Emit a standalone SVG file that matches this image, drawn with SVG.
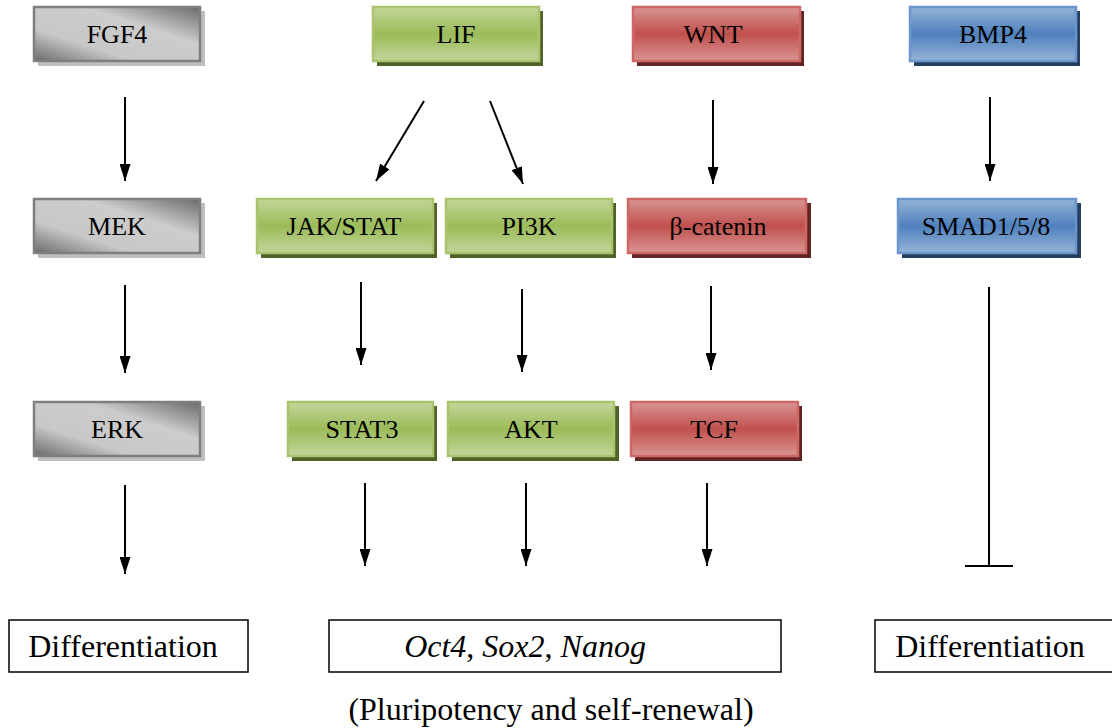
<svg xmlns="http://www.w3.org/2000/svg" width="1112" height="728" viewBox="0 0 1112 728">
<defs>
<linearGradient id="gGray" x1="0" y1="1" x2="1" y2="0">
<stop offset="0" stop-color="#6a6a6a"/>
<stop offset="0.3" stop-color="#c8c8c8"/>
<stop offset="0.65" stop-color="#cccccc"/>
<stop offset="1" stop-color="#6a6a6a"/>
</linearGradient>
<linearGradient id="gGreen" x1="0" y1="0" x2="0" y2="1">
<stop offset="0" stop-color="#c3d69b"/>
<stop offset="0.5" stop-color="#9bbb59"/>
<stop offset="1" stop-color="#c3d69b"/>
</linearGradient>
<linearGradient id="gRed" x1="0" y1="0" x2="0" y2="1">
<stop offset="0" stop-color="#d99594"/>
<stop offset="0.5" stop-color="#c0504d"/>
<stop offset="1" stop-color="#d99594"/>
</linearGradient>
<linearGradient id="gBlue" x1="0" y1="0" x2="0" y2="1">
<stop offset="0" stop-color="#95b3d7"/>
<stop offset="0.5" stop-color="#4f81bd"/>
<stop offset="1" stop-color="#95b3d7"/>
</linearGradient>
<marker id="ah" viewBox="0 0 17 11" refX="17" refY="5.5" markerWidth="17" markerHeight="11" markerUnits="userSpaceOnUse" orient="auto">
<path d="M0,0 L17,5.5 L0,11 z" fill="#000"/>
</marker>
</defs>
<style>
.t{font-family:"Liberation Serif","Times New Roman",serif;fill:#000;text-anchor:middle}
.lbl{font-size:26px}
.big{font-size:32px}
.cap{font-size:32px}
.gray .b{fill:url(#gGray);stroke:#7f7f7f;stroke-width:2.5}
.gray .s{fill:#bfbfbf}
.green .b{fill:url(#gGreen);stroke:#a9c46c;stroke-width:2.5}
.green .s{fill:#4f6228}
.red .b{fill:url(#gRed);stroke:#cd6864;stroke-width:2.5}
.red .s{fill:#632523}
.blue .b{fill:url(#gBlue);stroke:#6a96cb;stroke-width:2.5}
.blue .s{fill:#243f60}
.out{fill:#fff;stroke:#000;stroke-width:1.5}
.ar{stroke:#000;stroke-width:2;fill:none;marker-end:url(#ah)}
.inh{stroke:#000;stroke-width:2;fill:none}
</style>

<g id="FGF4" class="gray"><rect class="s" x="38" y="11" width="167" height="55"/><rect class="b" x="34" y="7" width="166" height="54"/><text class="t lbl" x="117" y="43">FGF4</text></g>
<g id="LIF" class="green"><rect class="s" x="377" y="11" width="166" height="55"/><rect class="b" x="373" y="7" width="166" height="54"/><text class="t lbl" x="456" y="43">LIF</text></g>
<g id="WNT" class="red"><rect class="s" x="637" y="11" width="167" height="55"/><rect class="b" x="633" y="7" width="167" height="54"/><text class="t lbl" x="713" y="43">WNT</text></g>
<g id="BMP4" class="blue"><rect class="s" x="914" y="11" width="166" height="55"/><rect class="b" x="910" y="7" width="166" height="54"/><text class="t lbl" x="993" y="43">BMP4</text></g>

<g id="MEK" class="gray"><rect class="s" x="38" y="203" width="167" height="55"/><rect class="b" x="34" y="199" width="166" height="54"/><text class="t lbl" x="117" y="235">MEK</text></g>
<g id="JAKSTAT" class="green"><rect class="s" x="261" y="203" width="176" height="55"/><rect class="b" x="257" y="199" width="176" height="54"/><text class="t lbl" x="344" y="235">JAK/STAT</text></g>
<g id="PI3K" class="green"><rect class="s" x="450" y="203" width="166" height="55"/><rect class="b" x="446" y="199" width="166" height="54"/><text class="t lbl" x="529" y="235">PI3K</text></g>
<g id="bcatenin" class="red"><rect class="s" x="632" y="203" width="179" height="55"/><rect class="b" x="628" y="199" width="178" height="54"/><text class="t lbl" x="718" y="235">β-catenin</text></g>
<g id="SMAD" class="blue"><rect class="s" x="902" y="203" width="179" height="55"/><rect class="b" x="898" y="199" width="178" height="54"/><text class="t lbl" x="986" y="235">SMAD1/5/8</text></g>

<g id="ERK" class="gray"><rect class="s" x="38" y="406" width="167" height="55"/><rect class="b" x="34" y="402" width="166" height="54"/><text class="t lbl" x="117" y="438">ERK</text></g>
<g id="STAT3" class="green"><rect class="s" x="292" y="406" width="145" height="55"/><rect class="b" x="288" y="402" width="145" height="54"/><text class="t lbl" x="362" y="438">STAT3</text></g>
<g id="AKT" class="green"><rect class="s" x="452" y="406" width="167" height="55"/><rect class="b" x="448" y="402" width="166" height="54"/><text class="t lbl" x="531" y="438">AKT</text></g>
<g id="TCF" class="red"><rect class="s" x="635" y="406" width="167" height="55"/><rect class="b" x="631" y="402" width="167" height="54"/><text class="t lbl" x="714" y="438">TCF</text></g>

<g id="Diff1"><rect class="out" x="9" y="620" width="239" height="52"/><text class="t big" x="123" y="657">Differentiation</text></g>
<g id="Pluri"><rect class="out" x="329" y="620" width="452" height="52"/><text class="t big" x="525" y="657"><tspan font-style="italic">Oct4</tspan>, <tspan font-style="italic">Sox2</tspan>, <tspan font-style="italic">Nanog</tspan></text></g>
<g id="Diff2"><rect class="out" x="875" y="620" width="250" height="52"/><text class="t big" x="990" y="657">Differentiation</text></g>
<g id="caption"><text class="t cap" x="551" y="720">(Pluripotency and self-renewal)</text></g>

<g id="connectors">
<line class="ar" x1="125" y1="97" x2="125" y2="181"/>
<line class="ar" x1="125" y1="285" x2="125" y2="373"/>
<line class="ar" x1="125" y1="485" x2="125" y2="574"/>
<line class="ar" x1="424" y1="101" x2="376" y2="181"/>
<line class="ar" x1="490" y1="101" x2="523" y2="184"/>
<line class="ar" x1="713" y1="100" x2="713" y2="184"/>
<line class="ar" x1="990" y1="97" x2="990" y2="181"/>
<line class="ar" x1="361" y1="282" x2="361" y2="365"/>
<line class="ar" x1="522" y1="289" x2="522" y2="372"/>
<line class="ar" x1="711" y1="286" x2="711" y2="370"/>
<line class="ar" x1="365" y1="483" x2="365" y2="566"/>
<line class="ar" x1="526" y1="483" x2="526" y2="566"/>
<line class="ar" x1="707" y1="483" x2="707" y2="566"/>
<line class="inh" x1="989" y1="287" x2="989" y2="566"/>
<line class="inh" x1="965" y1="566" x2="1013" y2="566" stroke-width="3"/>
</g>
</svg>
